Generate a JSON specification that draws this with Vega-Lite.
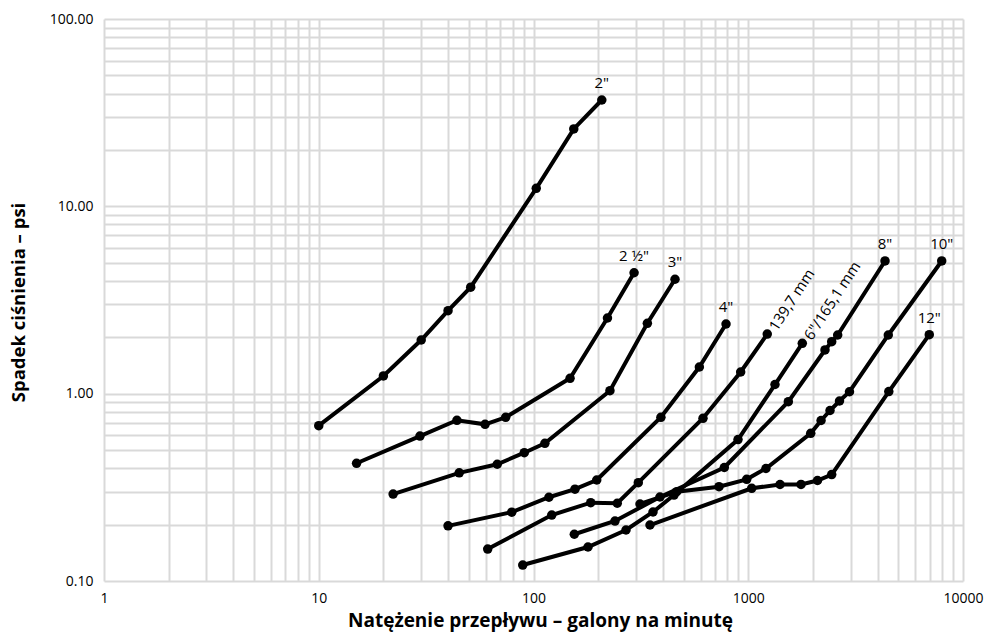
{
  "$schema": "https://vega.github.io/schema/vega-lite/v6.json",
  "width": 859,
  "height": 562,
  "autosize": {"type": "none"},
  "padding": {"left": 104, "top": 19, "right": 23, "bottom": 54},
  "background": "white",
  "config": {"view": {"stroke": null}, "font": "Open Sans"},
  "datasets": {
    "pts": [
      {"size": "2\"", "gpm": 10, "psi": 0.675},
      {"size": "2\"", "gpm": 20, "psi": 1.243},
      {"size": "2\"", "gpm": 30, "psi": 1.934},
      {"size": "2\"", "gpm": 40, "psi": 2.773},
      {"size": "2\"", "gpm": 51, "psi": 3.70},
      {"size": "2\"", "gpm": 103, "psi": 12.48},
      {"size": "2\"", "gpm": 154, "psi": 25.9},
      {"size": "2\"", "gpm": 208, "psi": 36.95},
      {"size": "2 ½\"", "gpm": 15, "psi": 0.425},
      {"size": "2 ½\"", "gpm": 29.6, "psi": 0.594},
      {"size": "2 ½\"", "gpm": 44, "psi": 0.721},
      {"size": "2 ½\"", "gpm": 59.5, "psi": 0.686},
      {"size": "2 ½\"", "gpm": 74.2, "psi": 0.748},
      {"size": "2 ½\"", "gpm": 148, "psi": 1.208},
      {"size": "2 ½\"", "gpm": 221, "psi": 2.535},
      {"size": "2 ½\"", "gpm": 294, "psi": 4.42},
      {"size": "3\"", "gpm": 22.2, "psi": 0.291},
      {"size": "3\"", "gpm": 45.1, "psi": 0.378},
      {"size": "3\"", "gpm": 67.8, "psi": 0.420},
      {"size": "3\"", "gpm": 90.6, "psi": 0.484},
      {"size": "3\"", "gpm": 113, "psi": 0.543},
      {"size": "3\"", "gpm": 227, "psi": 1.037},
      {"size": "3\"", "gpm": 339, "psi": 2.375},
      {"size": "3\"", "gpm": 456, "psi": 4.08},
      {"size": "4\"", "gpm": 40, "psi": 0.197},
      {"size": "4\"", "gpm": 79.2, "psi": 0.233},
      {"size": "4\"", "gpm": 118, "psi": 0.280},
      {"size": "4\"", "gpm": 156, "psi": 0.309},
      {"size": "4\"", "gpm": 197, "psi": 0.346},
      {"size": "4\"", "gpm": 392, "psi": 0.748},
      {"size": "4\"", "gpm": 592, "psi": 1.388},
      {"size": "4\"", "gpm": 788, "psi": 2.355},
      {"size": "139,7 mm", "gpm": 61.2, "psi": 0.148},
      {"size": "139,7 mm", "gpm": 121.6, "psi": 0.225},
      {"size": "139,7 mm", "gpm": 184.7, "psi": 0.262},
      {"size": "139,7 mm", "gpm": 245.5, "psi": 0.260},
      {"size": "139,7 mm", "gpm": 307.6, "psi": 0.335},
      {"size": "139,7 mm", "gpm": 615.6, "psi": 0.739},
      {"size": "139,7 mm", "gpm": 922, "psi": 1.305},
      {"size": "139,7 mm", "gpm": 1226, "psi": 2.08},
      {"size": "6\"/165,1 mm", "gpm": 89.1, "psi": 0.1217},
      {"size": "6\"/165,1 mm", "gpm": 179.4, "psi": 0.1519},
      {"size": "6\"/165,1 mm", "gpm": 269.6, "psi": 0.1872},
      {"size": "6\"/165,1 mm", "gpm": 360.1, "psi": 0.2335},
      {"size": "6\"/165,1 mm", "gpm": 451.1, "psi": 0.2877},
      {"size": "6\"/165,1 mm", "gpm": 896, "psi": 0.569},
      {"size": "6\"/165,1 mm", "gpm": 1332, "psi": 1.119},
      {"size": "6\"/165,1 mm", "gpm": 1785, "psi": 1.857},
      {"size": "8\"", "gpm": 154.9, "psi": 0.1776},
      {"size": "8\"", "gpm": 239.6, "psi": 0.209},
      {"size": "8\"", "gpm": 388, "psi": 0.2808},
      {"size": "8\"", "gpm": 773.5, "psi": 0.4036},
      {"size": "8\"", "gpm": 1537, "psi": 0.906},
      {"size": "8\"", "gpm": 2277, "psi": 1.711},
      {"size": "8\"", "gpm": 2447, "psi": 1.894},
      {"size": "8\"", "gpm": 2609, "psi": 2.057},
      {"size": "8\"", "gpm": 4334, "psi": 5.109},
      {"size": "10\"", "gpm": 313.3, "psi": 0.2576},
      {"size": "10\"", "gpm": 464.5, "psi": 0.2998},
      {"size": "10\"", "gpm": 730.8, "psi": 0.3188},
      {"size": "10\"", "gpm": 983.6, "psi": 0.349},
      {"size": "10\"", "gpm": 1209, "psi": 0.3987},
      {"size": "10\"", "gpm": 1954, "psi": 0.6144},
      {"size": "10\"", "gpm": 2183, "psi": 0.719},
      {"size": "10\"", "gpm": 2403, "psi": 0.813},
      {"size": "10\"", "gpm": 2660, "psi": 0.914},
      {"size": "10\"", "gpm": 2961, "psi": 1.024},
      {"size": "10\"", "gpm": 4489, "psi": 2.057},
      {"size": "10\"", "gpm": 7959, "psi": 5.109},
      {"size": "12\"", "gpm": 348.7, "psi": 0.199},
      {"size": "12\"", "gpm": 1038, "psi": 0.3126},
      {"size": "12\"", "gpm": 1406, "psi": 0.3275},
      {"size": "12\"", "gpm": 1761, "psi": 0.3278},
      {"size": "12\"", "gpm": 2101, "psi": 0.344},
      {"size": "12\"", "gpm": 2447, "psi": 0.370},
      {"size": "12\"", "gpm": 4513, "psi": 1.026},
      {"size": "12\"", "gpm": 6966, "psi": 2.064}
    ],
    "labels": [
      {"label": "2\"", "gpm": 208, "psi": 36.95},
      {"label": "2 ½\"", "gpm": 294, "psi": 4.42},
      {"label": "3\"", "gpm": 456, "psi": 4.08},
      {"label": "4\"", "gpm": 788, "psi": 2.355},
      {"label": "8\"", "gpm": 4334, "psi": 5.109},
      {"label": "10\"", "gpm": 7959, "psi": 5.109},
      {"label": "12\"", "gpm": 6966, "psi": 2.064}
    ],
    "rlabels": [
      {"label": "139,7 mm", "gpm": 1226, "psi": 2.08},
      {"label": "6\"/165,1 mm", "gpm": 1785, "psi": 1.857}
    ]
  },
  "layer": [
    {
      "data": {"name": "pts"},
      "mark": {"type": "line", "color": "#000000", "strokeWidth": 4},
      "encoding": {
        "x": {
          "field": "gpm", "type": "quantitative",
          "scale": {"type": "log", "domain": [1, 10000], "nice": false},
          "axis": {
            "values": [1,2,3,4,5,6,7,8,9,10,20,30,40,50,60,70,80,90,100,200,300,400,500,600,700,800,900,1000,2000,3000,4000,5000,6000,7000,8000,9000,10000],
            "labelExpr": "(datum.value==1||datum.value==10||datum.value==100||datum.value==1000||datum.value==10000) ? format(datum.value,'d') : ''",
            "labelOverlap": false, "labelFlush": false,
            "grid": true, "gridColor": "#d9d9d9", "gridWidth": 2,
            "ticks": false, "domain": false,
            "labelFontSize": 14, "labelColor": "#000000", "labelPadding": 10,
            "title": "Natężenie przepływu – galony na minutę",
            "titleFontSize": 19, "titleFontWeight": "bold", "titleColor": "#000000",
            "titleX": 436, "titleY": 39, "titleAlign": "center", "titleBaseline": "middle"
          }
        },
        "y": {
          "field": "psi", "type": "quantitative",
          "scale": {"type": "log", "domain": [0.1, 100], "nice": false},
          "axis": {
            "values": [0.1,0.2,0.3,0.4,0.5,0.6,0.7,0.8,0.9,1,2,3,4,5,6,7,8,9,10,20,30,40,50,60,70,80,90,100],
            "labelExpr": "(datum.value==0.1||datum.value==1||datum.value==10||datum.value==100) ? format(datum.value,'.2f') : ''",
            "labelOverlap": false, "labelFlush": false,
            "grid": true, "gridColor": "#d9d9d9", "gridWidth": 2,
            "ticks": false, "domain": false,
            "labelFontSize": 14, "labelColor": "#000000", "labelPadding": 11,
            "title": "Spadek ciśnienia – psi",
            "titleFontSize": 18.5, "titleFontWeight": "bold", "titleColor": "#000000",
            "titleX": -86, "titleY": 283, "titleAngle": 270, "titleAlign": "center", "titleBaseline": "middle"
          }
        },
        "detail": {"field": "size", "type": "nominal"}
      }
    },
    {
      "data": {"name": "pts"},
      "mark": {"type": "point", "filled": true, "color": "#000000", "size": 90, "opacity": 1},
      "encoding": {
        "x": {"field": "gpm", "type": "quantitative"},
        "y": {"field": "psi", "type": "quantitative"},
        "detail": {"field": "size", "type": "nominal"}
      }
    },
    {
      "data": {"name": "labels"},
      "mark": {"type": "text", "fontSize": 15, "color": "#000000", "align": "center", "baseline": "alphabetic", "dy": -12},
      "encoding": {
        "x": {"field": "gpm", "type": "quantitative"},
        "y": {"field": "psi", "type": "quantitative"},
        "text": {"field": "label"}
      }
    },
    {
      "data": {"name": "rlabels"},
      "mark": {"type": "text", "fontSize": 15, "color": "#000000", "align": "left", "baseline": "middle", "angle": 303, "dx": 7, "dy": 2},
      "encoding": {
        "x": {"field": "gpm", "type": "quantitative"},
        "y": {"field": "psi", "type": "quantitative"},
        "text": {"field": "label"}
      }
    }
  ]
}
